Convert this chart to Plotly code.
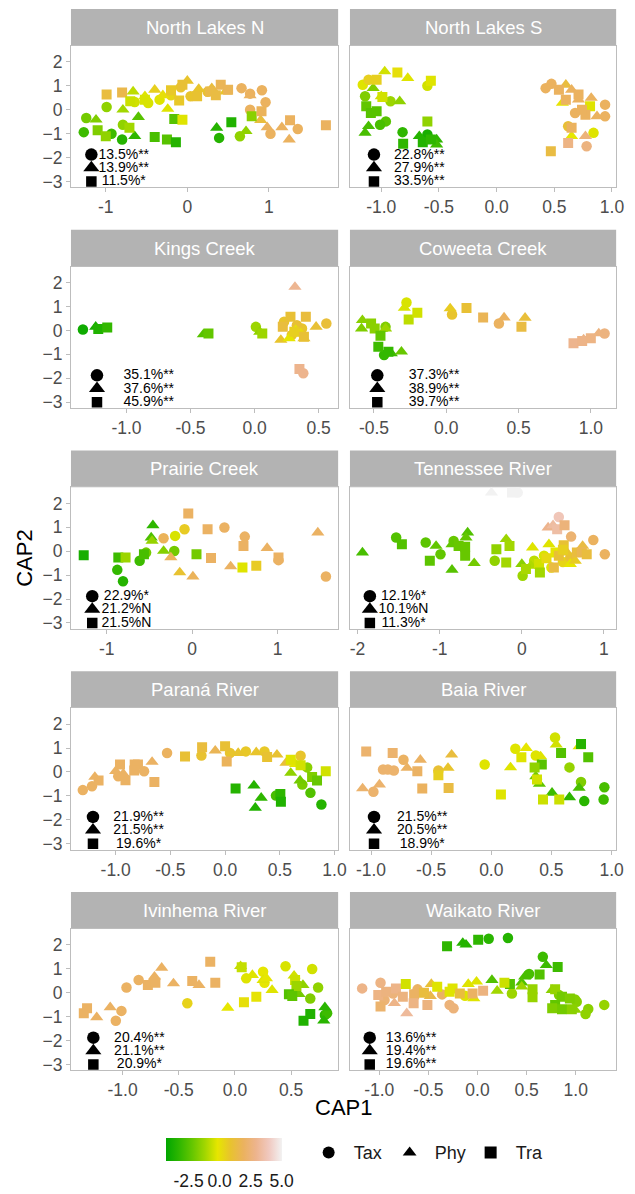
import plotly.graph_objects as go

# ---------------------------------------------------------------------------
# Sample scores: (CAP1, CAP2, gradient value) for each site and descriptor set
# Tax = taxonomic, Phy = phylogenetic, Tra = trait-based
# ---------------------------------------------------------------------------
NLN_TAX = [(-1.24, -0.35, -2.0), (-1.27, -0.94, -3.0), (-0.99, 0.11, -1.5), (-0.93, -1.01, -3.0),
           (-0.80, -1.25, -3.5), (-0.79, -0.63, -1.5), (-0.645, 0.32, -0.5), (-0.48, 0.28, -0.4),
           (-0.34, 0.42, -0.3), (-0.20, 0.60, 0.3), (-0.08, 0.94, 0.8), (0.04, 0.56, 0.8),
           (0.25, 0.75, 1.0), (0.39, -1.18, -3.5), (0.645, -1.11, -1.5), (0.665, 0.90, 1.9),
           (0.77, 0.67, 1.9), (0.915, 0.81, 1.9), (0.96, 0.31, 1.9), (0.77, 0.00, 1.9),
           (1.02, -1.01, 1.9), (1.355, -0.81, 1.9)]
NLN_PHY = [(-1.12, -0.42, -1.8), (-0.665, 0.76, -0.8), (-0.79, 0.00, -1.2), (-0.60, -0.31, -2.5),
           (-0.645, -1.11, -3.3), (-0.40, 0.83, 0.5), (-0.52, 0.56, -0.3), (-0.30, 0.60, 0.0),
           (-0.24, 0.03, -0.3), (0.00, 1.21, 0.8), (0.14, 0.86, 0.8), (0.30, 0.90, 1.2),
           (0.47, 0.76, 0.8), (0.36, -0.76, -3.5), (0.72, -0.90, -1.5), (0.77, 0.60, 1.9),
           (0.90, -0.44, 1.2), (0.98, -0.74, 1.9), (1.16, -0.74, 1.9), (1.25, -1.25, 1.9)]
NLN_TRA = [(-0.99, 0.63, 1.2), (-0.80, 0.72, 1.5), (-0.70, 0.35, -0.6), (-0.71, -0.76, -1.2),
           (-1.10, -0.86, -1.8), (-1.00, -1.11, -1.5), (-0.52, 0.42, -0.4), (-0.40, -1.14, -2.8),
           (-0.25, -1.25, -2.5), (-0.14, -1.36, -3.5), (-0.16, -0.39, -2.5), (-0.06, -0.42, -0.3),
           (-0.20, 0.81, 0.7), (-0.10, 0.38, 0.7), (-0.06, 1.04, 1.0), (0.12, 0.56, 0.9),
           (0.28, 0.76, 1.4), (0.35, 0.60, 1.3), (0.41, 1.04, 1.7), (0.50, 0.83, 1.7),
           (0.54, -0.53, -3.6), (0.79, -0.28, -1.6), (0.91, -0.07, 1.8), (1.26, -0.44, 1.9),
           (1.70, -0.65, 1.9)]

NLS_TAX = [(-1.16, 1.04, -0.3), (-1.11, 1.25, 0.5), (-1.14, 0.56, -1.8), (-0.92, 0.35, -1.3),
           (-0.96, -0.49, -2.5), (-1.01, -0.63, -2.8), (-0.815, -0.94, -3.3), (-0.60, 1.00, -0.5),
           (-0.60, -1.04, -3.8), (0.425, 0.90, 1.9), (0.475, 1.08, 1.9), (0.94, 0.21, 1.9),
           (0.94, -0.28, 1.9), (0.84, -0.97, -0.3), (0.78, -1.53, 2.6), (0.62, -0.69, 1.0),
           (0.68, -0.14, 1.9)]
NLS_PHY = [(-0.97, 1.60, -0.5), (-0.77, 1.32, -0.3), (-1.07, 0.90, -1.8), (-1.00, 0.56, -0.5),
           (-0.84, 0.35, -1.5), (-1.11, -0.69, -2.8), (-1.14, -0.97, -2.8), (-0.67, -1.11, -3.5),
           (-0.52, -1.25, -3.3), (-0.52, -1.46, -3.0), (0.60, 1.04, 1.2), (0.65, 0.83, 1.9),
           (0.57, 0.28, -0.1), (0.82, 0.49, 1.9), (0.87, -0.28, 1.9), (0.77, -1.11, 2.5),
           (0.65, -1.11, -0.2), (0.71, 0.42, 1.9)]
NLS_TRA = [(-1.04, 1.25, 0.5), (-0.86, 1.56, 0.0), (-0.57, 1.21, -0.3), (-0.99, 0.53, -0.5),
           (-1.13, 0.14, -2.3), (-1.09, -0.14, -2.5), (-1.04, -0.07, -2.5), (-0.60, -0.49, -1.5),
           (-0.81, -1.42, -3.3), (-0.64, -1.36, -3.5), (-0.57, -1.25, -3.3), (0.47, -1.74, 1.3),
           (0.62, -1.39, 2.7), (0.54, 0.83, 1.9), (0.71, 0.63, 1.9), (0.81, 0.14, -0.3),
           (0.77, -0.21, 1.9), (0.65, -0.76, 1.9), (0.74, 0.00, 1.9), (0.60, 0.42, 1.9)]

KC_TAX = [(-1.34, 0.04, -4.0), (0.01, 0.15, -1.3), (0.23, 0.36, 0.8), (0.56, 0.29, 1.1),
          (0.37, 0.08, 0.8), (0.29, -0.19, 0.8), (0.33, 0.22, 1.0), (0.38, -1.79, 2.9)]
KC_PHY = [(-1.24, 0.15, -3.8), (-0.40, -0.17, -2.5), (0.04, -0.06, -1.5), (0.315, 1.82, 3.0),
          (0.48, 0.15, 1.0), (0.205, -0.40, 0.8), (0.27, -0.33, -0.2), (0.32, 0.01, -0.2),
          (0.385, -0.33, 0.8), (0.36, -0.12, 0.2)]
KC_TRA = [(-1.22, 0.06, -3.6), (-1.15, 0.12, -3.2), (-0.36, -0.13, -2.3), (0.06, -0.13, -1.3),
          (0.28, 0.57, 1.0), (0.40, 0.57, 1.2), (0.22, 0.15, 1.2), (0.31, -0.06, 0.5),
          (0.385, -0.26, 1.0), (0.35, -1.61, 2.9)]

CC_TAX = [(-0.42, 0.15, -1.8), (-0.43, -1.03, -3.2), (-0.275, 1.17, -0.4), (0.04, 0.67, 0.8),
          (0.364, 0.29, 1.9), (1.095, -0.125, 2.6)]
CC_PHY = [(-0.58, 0.43, -1.6), (-0.586, 0.08, -1.8), (-0.42, 0.08, -1.3), (-0.38, -0.96, -3.0),
          (-0.31, -0.89, -2.2), (-0.29, 0.94, -0.4), (0.027, 0.92, 0.6), (0.40, 0.54, 1.9),
          (0.545, 0.53, 1.1), (0.95, -0.38, 2.7), (1.055, -0.125, 2.6)]
CC_TRA = [(-0.52, 0.29, -1.6), (-0.495, 0.08, -1.6), (-0.455, -0.22, -2.3), (-0.47, -0.68, -3.0),
          (-0.40, -0.89, -3.2), (-0.26, 0.46, -0.8), (-0.20, 0.74, -0.5), (0.14, 0.94, 1.0),
          (0.255, 0.54, 1.7), (0.52, 0.15, 1.3), (0.88, -0.54, 2.9), (0.94, -0.44, 2.8),
          (1.00, -0.33, 2.7)]

PC_TAX = [(-0.877, -0.78, -3.2), (-0.81, -1.26, -3.5), (-0.615, -0.40, -3.0), (-0.54, -0.06, -2.0),
          (-0.335, 0.54, 1.8), (-0.21, 0.01, -2.0), (-0.20, 0.64, -0.4), (-0.09, 0.92, 0.6),
          (0.377, 0.99, 2.0), (0.615, 0.61, 2.0), (1.01, -0.375, 2.0), (1.565, -1.06, 2.0)]
PC_PHY = [(-0.46, 1.08, -3.3), (-0.48, 0.57, -2.7), (-0.47, 0.43, -1.4), (-0.335, 0.01, -1.7),
          (-0.25, -0.26, 1.8), (-0.146, -0.89, 0.9), (0.008, -1.06, 1.8), (0.45, -0.64, 2.0),
          (0.877, 0.13, 2.0), (1.47, 0.78, 2.0)]
PC_TRA = [(-1.27, -0.17, -3.8), (-0.865, -0.26, -3.0), (-0.78, -0.26, -1.3), (-0.565, -0.13, -2.8),
          (-0.046, 1.58, 2.0), (0.05, -0.13, -2.0), (0.18, 0.92, 2.0), (0.22, -0.29, 2.0),
          (0.588, -0.68, -0.3), (0.75, -0.61, 0.6), (0.60, 0.22, 2.0), (1.01, -0.26, 2.0)]

TN_TAX = [(-1.53, 0.57, -2.6), (-1.17, 0.36, -2.4), (-0.99, -0.13, -2.3), (-0.83, 0.43, -2.2),
          (-0.33, -0.40, -1.5), (0.01, -1.03, -1.3), (0.15, -0.40, -0.8), (0.27, -0.19, -0.4),
          (0.36, -0.68, -0.3), (0.50, -0.45, 0.3), (0.59, -0.26, 1.0), (0.87, 0.47, 1.9),
          (1.01, -0.125, 1.9), (0.45, 1.43, 3.8), (0.60, 0.61, 2.3), (-0.05, 2.45, 5.0)]
TN_PHY = [(-1.94, -0.06, -2.8), (-1.044, 0.22, -2.3), (-0.85, 0.29, -2.3), (-0.85, -0.78, -2.5),
          (-0.66, 0.78, -2.6), (-0.68, 0.57, -2.3), (-0.58, -0.50, -2.0), (-0.19, 0.50, -1.3),
          (0.00, -0.54, -1.6), (0.11, -0.61, -1.0), (0.13, 0.15, -0.3), (0.33, 0.29, -0.3),
          (0.55, -0.06, 0.8), (0.59, -0.54, -0.2), (0.74, 0.22, 1.3), (0.65, -0.40, 0.6),
          (0.32, 0.99, 2.9), (0.38, 1.08, 3.3), (-0.37, 2.45, 5.0)]
TN_TRA = [(-1.46, 0.29, -2.6), (-1.12, -0.40, -2.4), (-0.77, 0.22, -2.2), (-0.69, 0.19, -2.2),
          (-0.69, -0.19, -2.2), (-0.31, 0.08, -1.5), (-0.19, -0.47, -1.2), (-0.15, 0.22, -1.2),
          (0.05, -0.75, -1.1), (0.21, -0.54, -0.5), (0.22, -0.89, -1.2), (0.30, -0.30, 0.2),
          (0.41, -0.06, -0.2), (0.45, -0.19, 1.0), (0.51, 0.25, 1.0), (0.67, -0.06, 1.2),
          (0.73, -0.03, 1.6), (0.79, -0.125, 1.2), (0.50, 0.06, 0.5), (0.39, -0.68, 1.3),
          (0.43, 0.92, 3.4), (0.52, 1.08, 2.5), (-0.12, 2.45, 5.0)]

PR_TAX = [(-1.30, -0.76, 2.0), (-1.216, -0.60, 2.0), (-0.976, -0.18, 2.0), (-0.74, 0.03, 2.0),
          (-0.53, 0.79, 1.9), (-0.216, 0.69, 0.9), (0.045, 0.79, 0.8), (0.19, 0.86, 0.7),
          (0.36, 0.86, 0.7), (0.69, 0.68, 0.8), (0.75, 0.19, -1.6), (0.706, -0.53, -1.9),
          (0.78, -0.875, -2.6), (0.88, -1.36, -3.5), (0.465, -0.99, -2.8)]
PR_PHY = [(-1.19, -0.21, 2.0), (-1.00, 0.03, 2.0), (-0.93, -0.08, 2.0), (-0.667, 0.42, 2.0),
          (-0.09, 0.89, 1.7), (0.12, 0.79, 0.8), (0.285, 0.82, 0.8), (0.474, 0.72, 0.9),
          (0.556, 0.375, 1.1), (0.645, 0.33, -0.2), (0.60, -0.04, -1.5), (0.685, -0.36, -2.0),
          (0.264, -0.57, -3.5), (0.33, -1.08, -3.3), (0.276, -1.50, -3.6)]
PR_TRA = [(-1.156, -0.36, 2.0), (-0.96, 0.31, 2.0), (-0.91, -0.35, 2.0), (-0.826, 0.31, 2.0),
          (-0.796, 0.31, 2.0), (-0.83, 0.06, 2.0), (-0.646, -0.42, 2.0), (-0.366, 0.65, 1.0),
          (-0.21, 1.03, 1.2), (0.00, 1.07, 1.0), (0.015, 0.44, 1.8), (0.384, 0.63, 0.9),
          (0.60, 0.51, -0.3), (0.69, 0.28, -0.5), (0.92, 0.03, -0.5), (0.795, -0.21, -1.8),
          (0.84, -0.36, -2.2), (0.096, -0.69, -3.5), (0.505, -0.92, -3.3), (0.51, -1.25, -3.6)]

BR_TAX = [(-0.98, -0.83, 2.2), (-0.90, 0.10, 2.2), (-0.86, 0.10, 2.2), (-0.81, 0.06, 2.2),
          (-0.73, 0.51, 2.0), (-0.44, 0.06, 1.0), (-0.055, 0.31, -0.3), (0.20, 0.97, -0.3),
          (0.37, 0.69, -0.3), (0.53, 1.44, -0.5), (0.65, 0.19, -1.4), (0.746, -0.42, -1.8),
          (0.773, -1.22, -3.4), (0.94, -0.64, -2.8), (0.934, -1.15, -3.0)]
BR_PHY = [(-1.07, -0.69, 2.2), (-0.93, -0.53, 2.2), (-0.70, 0.17, 2.0), (-0.59, 0.51, 2.0),
          (-0.36, 0.17, 0.8), (-0.33, 0.72, 1.2), (0.16, 0.19, -0.3), (0.29, 1.00, -0.2),
          (0.41, 0.65, -0.3), (0.37, -0.18, -2.0), (0.40, -0.50, -2.3), (0.505, -0.875, -3.0),
          (0.65, -1.06, -3.3), (0.54, 1.14, -0.5), (0.73, 1.07, -0.3), (0.73, -0.67, -2.8)]
BR_TRA = [(-1.04, 0.86, 2.2), (-0.82, 0.79, 2.2), (-0.615, 0.03, 2.0), (-0.574, -0.69, 1.9),
          (-0.44, -0.14, 0.5), (-0.355, -0.67, 1.3), (0.08, -0.94, -0.3), (0.25, 0.61, -0.3),
          (0.42, 0.31, -2.5), (0.36, 0.19, -1.5), (0.38, -0.32, -0.5), (0.43, -1.15, -0.6),
          (0.565, -1.15, -0.6), (0.746, 1.17, -3.5), (0.58, 0.79, -2.6), (0.806, 0.61, -2.6)]

IR_TAX = [(-1.06, -1.17, 2.0), (-1.01, -0.76, 2.0), (-0.965, 0.22, 2.0), (-0.857, 0.53, 2.0),
          (-0.424, -0.44, 0.4), (0.10, 0.60, -0.3), (0.25, 0.88, -0.2), (0.263, 0.42, -0.2),
          (0.45, 1.11, -0.4), (0.687, 0.99, -0.5), (0.74, 0.22, -1.5), (0.67, -0.24, -1.8),
          (0.80, -0.93, -3.3), (0.82, -0.86, -3.0)]
IR_PHY = [(-1.23, -1.03, 2.0), (-1.11, -0.61, 2.0), (-0.716, 0.67, 2.0), (-0.737, 0.50, 2.0),
          (-0.652, 1.04, 2.0), (-0.547, 0.39, 2.0), (-0.32, 0.32, 2.0), (-0.064, -0.63, -0.2),
          (0.05, 1.11, -0.7), (0.155, 0.74, -0.3), (0.25, 0.53, -0.3), (0.28, 0.60, -0.2),
          (0.33, 0.11, -0.3), (0.526, 0.71, -0.5), (0.605, 0.32, -1.5), (0.57, -0.06, -2.0),
          (0.80, -0.61, -3.4), (0.79, -1.17, -3.4)]
IR_TRA = [(-1.345, -0.86, 2.0), (-1.316, -0.65, 2.0), (-0.775, 0.32, 2.0), (-0.708, 0.42, 2.0),
          (-0.38, 0.49, 2.0), (-0.22, 1.29, 2.0), (-0.175, 0.42, 2.0), (0.06, 1.06, -0.7),
          (0.08, -0.40, 0.0), (0.19, -0.17, -0.1), (0.535, 0.53, -0.6), (0.547, 0.28, -1.3),
          (0.48, -0.06, -2.6), (0.51, -0.14, -2.4), (0.61, -1.17, -3.6), (0.67, -0.89, -3.6)]

WR_TAX = [(0.114, 2.26, -3.4), (0.31, 2.29, -3.5), (0.665, 1.50, -3.0), (0.525, 0.78, -2.8),
          (0.35, -0.03, -1.3), (0.83, -0.10, -1.8), (0.993, -0.28, -1.7), (1.01, -0.38, -1.7),
          (1.127, -0.68, -1.6), (1.10, -0.89, -1.5), (1.29, -0.51, -1.4), (-1.174, 0.18, 2.8),
          (-0.987, 0.42, 2.7), (-0.86, -0.03, 2.5), (-0.61, 0.14, 2.0), (-0.36, -0.07, 2.0),
          (-0.284, -0.51, 2.5), (-0.244, -0.65, 2.5), (-0.127, -0.125, -0.3), (-0.946, -0.31, 2.4)]
WR_PHY = [(-0.15, 2.08, -3.5), (-0.117, 2.01, -3.5), (0.70, 1.15, -3.0), (0.48, 0.67, -2.8),
          (0.45, 0.42, -2.6), (0.147, 0.53, -2.6), (0.20, 0.08, -1.2), (0.45, 0.25, -1.3),
          (0.76, 0.11, -1.6), (0.993, -0.72, -1.5), (-0.846, -0.44, 2.8), (-0.72, -0.86, 3.2),
          (-0.47, 0.36, 1.0), (-0.094, 0.36, -0.3), (-0.01, 0.46, -0.3), (-0.037, -0.24, -0.3),
          (-0.48, -0.14, 1.5)]
WR_TRA = [(-0.31, 1.94, -3.3), (0.007, 2.22, -3.3), (0.816, 1.08, -3.0), (0.632, 0.76, -2.6),
          (0.33, 0.36, -2.6), (0.274, 0.42, -0.6), (0.56, 0.14, -1.4), (0.56, -0.19, -1.4),
          (0.79, 0.14, -1.4), (0.86, -0.17, -2.0), (0.94, -0.24, -1.8), (0.79, -0.51, -2.3),
          (0.86, -0.69, -2.0), (0.96, -0.69, -1.6), (0.76, -0.65, -1.8), (-0.987, -0.58, 2.2),
          (-1.01, -0.10, 2.7), (-0.93, 0.04, 2.6), (-0.83, 0.18, 2.8), (-0.73, 0.36, -0.5),
          (-0.76, -0.17, 2.6), (-0.645, -0.06, 2.0), (-0.65, -0.44, 2.7), (-0.51, -0.51, 2.6),
          (-0.545, 0.00, 1.2), (-0.41, 0.25, -0.3), (-0.254, 0.18, -0.3), (-0.18, -0.03, 1.2),
          (-0.05, -0.03, 2.0), (0.057, 0.08, 2.6), (-0.284, 0.04, -0.3)]

# Explained variance and significance per descriptor set (Tax, Phy, Tra)
NLN_STATS = ["13.5%**", "13.9%**", "11.5%*"]
NLS_STATS = ["22.8%**", "27.9%**", "33.5%**"]
KC_STATS = ["35.1%**", "37.6%**", "45.9%**"]
CC_STATS = ["37.3%**", "38.9%**", "39.7%**"]
PC_STATS = ["22.9%*", "21.2%N", "21.5%N"]
TN_STATS = ["12.1%*", "10.1%N", "11.3%*"]
PR_STATS = ["21.9%**", "21.5%**", "19.6%*"]
BR_STATS = ["21.5%**", "20.5%**", "18.9%*"]
IR_STATS = ["20.4%**", "21.1%**", "20.9%*"]
WR_STATS = ["13.6%**", "19.4%**", "19.6%**"]

SITES = ["North Lakes N", "North Lakes S", "Kings Creek", "Coweeta Creek", "Prairie Creek",
         "Tennessee River", "Paraná River", "Baia River", "Ivinhema River", "Waikato River"]
GROUPS = ["Tax", "Phy", "Tra"]

TICKS_INT = [-1, 0, 1]
TICKS_HALF = [-1.0, -0.5, 0.0, 0.5, 1.0]
TICKS_TN = [-2, -1, 0, 1]
Y_TICKS = [-3, -2, -1, 0, 1, 2]
CBAR_TICKS = [-2.5, 0.0, 2.5, 5.0]

# ---------------------------------------------------------------------------
# Layout geometry (pixels)
# ---------------------------------------------------------------------------
W, H = 635, 1194
COLS = [(72, 343), (355, 625)]
ROW_TOP = [46, 267.5, 489, 710.5, 932]
PLOT_H = 142
STRIP_H = 37
Y_RANGE = [-3.25, 2.67]
FONT = "Liberation Sans, Arial, sans-serif"

TERRAIN = ["#00A600", "#2DB600", "#63C600", "#A0D600", "#E6E600",
           "#E8C32E", "#EBB25E", "#EDB48E", "#F0C9C0", "#F2F2F2"]
COLORSCALE = [[i / (len(TERRAIN) - 1), c] for i, c in enumerate(TERRAIN)]
CMIN, CMAX = -4.35, 5.0
CBAR_X, CBAR_LEN, CBAR_TOP, CBAR_THICK = 168, 116, 1142, 23

SYMBOLS = {"Tax": "circle", "Phy": "triangle-up", "Tra": "square"}
SIZES = {"Tax": 10.5, "Phy": 11.5, "Tra": 10}
KEY_SIZES = {"Tax": 12.5, "Phy": 14, "Tra": 10.5}
KEY_Y = {"Tax": -1.88, "Phy": -2.43, "Tra": -3.0}
TEXT_Y = {"Tax": -1.9, "Phy": -2.46, "Tra": -3.02}


def fmt(v, d):
    return f"{v:.{d}f}"


panels = [
    dict(data=(NLN_TAX, NLN_PHY, NLN_TRA), stats=NLN_STATS, xr=[-1.427, 1.850],
         ticks=TICKS_INT, dec=0, key_x=-1.177, txt_x=-0.78),
    dict(data=(NLS_TAX, NLS_PHY, NLS_TRA), stats=NLS_STATS, xr=[-1.271, 1.036],
         ticks=TICKS_HALF, dec=1, key_x=-1.063, txt_x=-0.67),
    dict(data=(KC_TAX, KC_PHY, KC_TRA), stats=KC_STATS, xr=[-1.433, 0.652],
         ticks=[-1.0, -0.5, 0.0, 0.5], dec=1, key_x=-1.23, txt_x=-0.826),
    dict(data=(CC_TAX, CC_PHY, CC_TRA), stats=CC_STATS, xr=[-0.666, 1.175],
         ticks=[-0.5, 0.0, 0.5, 1.0], dec=1, key_x=-0.477, txt_x=-0.084),
    dict(data=(PC_TAX, PC_PHY, PC_TRA), stats=PC_STATS, xr=[-1.419, 1.708],
         ticks=TICKS_INT, dec=0, key_x=-1.17, txt_x=-0.77),
    dict(data=(TN_TAX, TN_PHY, TN_TRA), stats=TN_STATS, xr=[-2.092, 1.148],
         ticks=TICKS_TN, dec=0, key_x=-1.85, txt_x=-1.44),
    dict(data=(PR_TAX, PR_PHY, PR_TRA), stats=PR_STATS, xr=[-1.408, 1.033],
         ticks=TICKS_HALF, dec=1, key_x=-1.207, txt_x=-0.79),
    dict(data=(BR_TAX, BR_PHY, BR_TRA), stats=BR_STATS, xr=[-1.175, 1.038],
         ticks=TICKS_HALF, dec=1, key_x=-0.975, txt_x=-0.574),
    dict(data=(IR_TAX, IR_PHY, IR_TRA), stats=IR_STATS, xr=[-1.459, 0.918],
         ticks=[-1.0, -0.5, 0.0, 0.5], dec=1, key_x=-1.26, txt_x=-0.85),
    dict(data=(WR_TAX, WR_PHY, WR_TRA), stats=WR_STATS, xr=[-1.298, 1.411],
         ticks=TICKS_HALF, dec=1, key_x=-1.097, txt_x=-0.675),
]

fig = go.Figure()
layout = dict(
    width=W, height=H, margin=dict(l=0, r=0, t=0, b=0),
    paper_bgcolor="white", plot_bgcolor="white",
    font=dict(family=FONT, color="#1A1A1A"),
    showlegend=True, shapes=[], annotations=[],
)

first = True
for i, (site, p) in enumerate(zip(SITES, panels)):
    r, c = divmod(i, 2)
    n = "" if i == 0 else str(i + 1)
    xa, ya = "x" + n, "y" + n
    x0, x1 = COLS[c]
    top = ROW_TOP[r]
    bot = top + PLOT_H

    layout["xaxis" + n] = dict(
        domain=[x0 / W, x1 / W], anchor=ya, range=p["xr"], showgrid=False, zeroline=False,
        showline=True, mirror=True, linecolor="#BDBDBD", linewidth=1,
        ticks="outside", ticklen=4, tickcolor="#BDBDBD",
        tickvals=p["ticks"], ticktext=[fmt(v, p["dec"]) for v in p["ticks"]],
        tickfont=dict(size=17.5, color="#4D4D4D"), fixedrange=True,
    )
    layout["yaxis" + n] = dict(
        domain=[1 - bot / H, 1 - top / H], anchor=xa, range=Y_RANGE, showgrid=False,
        zeroline=False, showline=True, mirror=True, linecolor="#BDBDBD", linewidth=1,
        ticks="outside" if c == 0 else "", ticklen=4, tickcolor="#BDBDBD",
        tickvals=Y_TICKS, showticklabels=(c == 0),
        tickfont=dict(size=17.5, color="#4D4D4D"), fixedrange=True,
    )

    # facet strip
    layout["shapes"].append(dict(
        type="rect", xref="paper", yref="paper", x0=x0 / W, x1=x1 / W,
        y0=1 - top / H, y1=1 - (top - STRIP_H) / H, fillcolor="#B3B3B3", line=dict(width=0),
        layer="below"))
    layout["annotations"].append(dict(
        text=site, xref="paper", yref="paper", x=(x0 + x1) / 2 / W,
        y=1 - (top - STRIP_H / 2) / H, showarrow=False, xanchor="center", yanchor="middle",
        font=dict(size=18.5, color="white", family=FONT)))

    # sample points
    for g, pts in zip(GROUPS, p["data"]):
        mk = dict(symbol=SYMBOLS[g], size=SIZES[g], color=[q[2] for q in pts],
                  colorscale=COLORSCALE, cmin=CMIN, cmax=CMAX, line=dict(width=0))
        if first:
            mk.update(showscale=True, colorbar=dict(
                orientation="h", x=CBAR_X / W, xanchor="left", y=1 - CBAR_TOP / H,
                yanchor="top", len=CBAR_LEN, lenmode="pixels", thickness=CBAR_THICK,
                thicknessmode="pixels", outlinewidth=0, xpad=0, ypad=0, tickvals=CBAR_TICKS,
                ticktext=[fmt(v, 1) for v in CBAR_TICKS], ticks="outside", ticklen=5,
                tickcolor="rgba(255,255,255,0)",
                tickfont=dict(size=17.5, color="#1A1A1A", family=FONT)))
            first = False
        fig.add_trace(go.Scatter(
            x=[q[0] for q in pts], y=[q[1] for q in pts], mode="markers", marker=mk,
            xaxis=xa, yaxis=ya, showlegend=False, hoverinfo="skip"))

    # key symbols with explained variance
    for g, s in zip(GROUPS, p["stats"]):
        fig.add_trace(go.Scatter(
            x=[p["key_x"]], y=[KEY_Y[g]], mode="markers",
            marker=dict(symbol=SYMBOLS[g], size=KEY_SIZES[g], color="black"),
            xaxis=xa, yaxis=ya, showlegend=False, hoverinfo="skip"))
        fig.add_trace(go.Scatter(
            x=[p["txt_x"]], y=[TEXT_Y[g]], mode="text", text=[s],
            textposition="middle center", textfont=dict(size=14, color="black", family=FONT),
            xaxis=xa, yaxis=ya, showlegend=False, hoverinfo="skip"))

# white tick marks across the colour bar
for v in CBAR_TICKS:
    px = CBAR_X + (v - CMIN) / (CMAX - CMIN) * CBAR_LEN
    for ya0, ya1 in ((CBAR_TOP, CBAR_TOP + 4.5), (CBAR_TOP + CBAR_THICK - 4.5, CBAR_TOP + CBAR_THICK)):
        layout["shapes"].append(dict(
            type="line", xref="paper", yref="paper", x0=px / W, x1=px / W,
            y0=1 - ya0 / H, y1=1 - ya1 / H, line=dict(color="white", width=1), layer="above"))

# shape legend
for g in GROUPS:
    fig.add_trace(go.Scatter(
        x=[None], y=[None], mode="markers", name=g,
        marker=dict(symbol=SYMBOLS[g], size=12, color="black"), showlegend=True))

layout["legend"] = dict(
    orientation="h", x=308 / W, xanchor="left", y=1 - 1138 / H, yanchor="top",
    font=dict(size=18, color="#1A1A1A", family=FONT), bgcolor="rgba(0,0,0,0)",
    itemsizing="trace", itemwidth=40, entrywidth=26, entrywidthmode="pixels",
    traceorder="normal")

# axis titles
layout["annotations"].append(dict(
    text="CAP1", xref="paper", yref="paper", x=(COLS[0][0] + COLS[1][1]) / 2 / W,
    y=1 - 1111 / H, showarrow=False, xanchor="center", yanchor="middle",
    font=dict(size=22, color="black", family=FONT)))
layout["annotations"].append(dict(
    text="CAP2", xref="paper", yref="paper", x=24 / W, y=1 - 560 / H, textangle=-90,
    showarrow=False, xanchor="center", yanchor="middle",
    font=dict(size=22, color="black", family=FONT)))

fig.update_layout(**layout)
fig.write_html("out.html")
